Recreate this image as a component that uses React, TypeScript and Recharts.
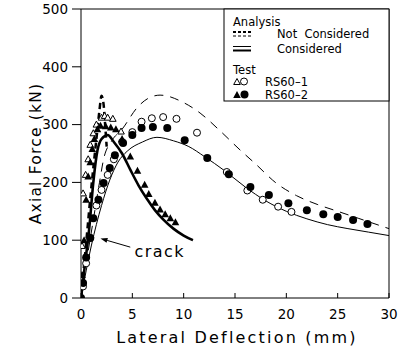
import React from "react"
import {
  ComposedChart,
  Line,
  Scatter,
  XAxis,
  YAxis,
  ReferenceLine,
  ReferenceDot,
} from "recharts"

// analysis curves, [deflection mm, axial force kN]
const notConsideredRS601: [number, number][] = [
  [0, 0], [0.5, 95], [1, 190], [1.5, 275], [1.8, 325], [2, 350],
  [2.2, 335], [2.35, 300], [2.5, 262],
]
const notConsideredRS602: [number, number][] = [
  [0, 0], [0.6, 70], [1.2, 135], [1.8, 200], [2.2, 240], [3, 272], [4, 292],
  [5.5, 330], [6.5, 345], [7.7, 351], [10, 338], [11.6, 320], [13.5, 290],
  [15.5, 256], [17, 232], [19, 199], [21, 177], [23, 162], [25, 150],
  [27, 138], [30, 120],
]
const consideredRS601: [number, number][] = [
  [0, 0], [0.4, 60], [0.8, 120], [1.2, 200], [1.6, 255], [2, 275],
  [2.6, 282], [3.2, 270], [4, 250], [4.8, 222], [5.6, 195], [6.4, 172],
  [7.2, 152], [8, 136], [9, 120], [10, 108], [10.9, 100],
]
const consideredRS602: [number, number][] = [
  [0, 0], [1, 90], [2, 160], [2.8, 204], [3.6, 235], [4.5, 254], [6, 270],
  [7.4, 278], [9, 272], [10.5, 262], [12, 245], [14, 220], [16, 192],
  [18, 168], [20, 150], [22, 137], [24, 127], [26, 120], [28, 114],
  [30, 108],
]

// test points
const openTriangles: [number, number][] = [
  [0.05, 30], [0.1, 90], [0.2, 181], [0.45, 213], [0.7, 240], [0.9, 265],
  [1.2, 285], [1.5, 300], [2.0, 312], [2.3, 315], [2.6, 312], [3.1, 310],
  [3.9, 288],
]
const openCircles: [number, number][] = [
  [0.2, 20], [0.5, 60], [0.9, 104], [1.5, 160], [2, 187], [2.6, 213],
  [3.2, 240], [4, 270], [5, 287], [5.9, 305], [6.9, 311], [8, 313],
  [9.3, 310], [11.3, 286], [14.2, 218], [16.2, 186], [17.7, 170],
  [19.2, 158], [20.5, 149],
]
const filledTriangles: [number, number][] = [
  [0, 0], [0.1, 40], [0.3, 100], [0.5, 170], [0.7, 210], [0.9, 235],
  [1.1, 258], [1.3, 275], [1.6, 292], [1.9, 298], [2.4, 297], [2.9, 295],
  [3.4, 292], [4.0, 275], [4.8, 245], [5.5, 220], [6.2, 196], [6.6, 180],
  [7.2, 165], [7.7, 153], [8.2, 145], [8.7, 138], [9.2, 131],
]
const filledCircles: [number, number][] = [
  [0, 0], [0.2, 26], [0.5, 70], [0.9, 104], [1.2, 138], [1.7, 170],
  [2.2, 199], [2.8, 225], [3.3, 247], [4.1, 268], [5, 282], [5.9, 294],
  [7, 296], [8.4, 294], [10.1, 273], [12.3, 242], [14.4, 214], [16.5, 192],
  [18.3, 178], [20.2, 164], [22, 152], [23.6, 145], [25, 140], [26.5, 135],
  [27.9, 128],
]

const xTicks = [0, 5, 10, 15, 20, 25, 30]
const yTicks = [0, 100, 200, 300, 400, 500]

// crack annotation: arrow from label to the cracking point
const crackArrow: [number, number][] = [[4.8, 88], [1.9, 103]]
const crackLabel: [number, number] = [5.2, 81]

const toPts = (arr: [number, number][]) => arr.map(([x, y]) => ({ x, y }))

const FONT = "'DejaVu Sans', sans-serif"

const OpenTriangle = (p: any) => (
  <polygon
    points={`${p.cx},${p.cy - 3.5} ${p.cx - 3.3},${p.cy + 2.5} ${p.cx + 3.3},${p.cy + 2.5}`}
    fill="#fff"
    stroke="#000"
    strokeWidth={1}
  />
)
const FilledTriangle = (p: any) => (
  <polygon
    points={`${p.cx},${p.cy - 4} ${p.cx - 3.8},${p.cy + 3} ${p.cx + 3.8},${p.cy + 3}`}
    fill="#000"
  />
)
const OpenCircle = (p: any) => (
  <circle cx={p.cx} cy={p.cy} r={3.5} fill="#fff" stroke="#000" strokeWidth={1} />
)
const FilledCircle = (p: any) => <circle cx={p.cx} cy={p.cy} r={4} fill="#000" />

function LegendBox() {
  return (
    <svg
      width={400}
      height={360}
      style={{ position: "absolute", left: 0, top: 0, pointerEvents: "none" }}
    >
      <rect x={224} y={9} width={165} height={92} fill="#fff" stroke="#000" strokeWidth={1} />
      <g fontFamily={FONT} fontSize={11.5} fill="#000">
        <text x={233} y={25.5}>Analysis</text>
        <line x1={233} y1={32} x2={251} y2={32} stroke="#000" strokeWidth={2} strokeDasharray="3 2" />
        <line x1={233} y1={36} x2={251} y2={36} stroke="#000" strokeWidth={1} strokeDasharray="3 2" />
        <text x={277} y={38}>Not&#160;&#160;Considered</text>
        <line x1={233} y1={46.5} x2={251} y2={46.5} stroke="#000" strokeWidth={1} />
        <line x1={233} y1={50.5} x2={251} y2={50.5} stroke="#000" strokeWidth={2} />
        <text x={277} y={53}>Considered</text>
        <text x={233} y={73.5}>Test</text>
        <OpenTriangle cx={237} cy={82} />
        <OpenCircle cx={244} cy={81.5} />
        <text x={265} y={85.5}>RS60–1</text>
        <FilledTriangle cx={237} cy={95} />
        <FilledCircle cx={244.5} cy={94.5} />
        <text x={265} y={98.5}>RS60–2</text>
      </g>
    </svg>
  )
}

const ArrowShape = (p: any) => {
  const { x1, y1, x2, y2 } = p
  const ang = Math.atan2(y2 - y1, x2 - x1)
  const L = 7
  const w = 2.5
  const bx = x2 - L * Math.cos(ang)
  const by = y2 - L * Math.sin(ang)
  const nx = -Math.sin(ang) * w
  const ny = Math.cos(ang) * w
  return (
    <g>
      <line x1={x1} y1={y1} x2={bx} y2={by} stroke="#000" strokeWidth={1} />
      <polygon points={`${x2},${y2} ${bx + nx},${by + ny} ${bx - nx},${by - ny}`} fill="#000" />
    </g>
  )
}

export default function App() {
  return (
    <div style={{ position: "absolute", left: 0, top: 0, width: 400, height: 360, background: "#fff" }}>
      <ComposedChart
        width={400}
        height={360}
        margin={{ top: 9, right: 11, left: 0, bottom: 0 }}
      >
        <XAxis
          type="number"
          dataKey="x"
          domain={[0, 30]}
          ticks={xTicks}
          allowDataOverflow
          stroke="#000"
          tickSize={-5}
          tickMargin={16}
          height={62}
          tick={{ fill: "#000", fontSize: 13.5, fontFamily: FONT }}
          label={{
            content: ({ viewBox }: any) => (
              <text
                x={viewBox.x + viewBox.width / 2 + 2}
                y={viewBox.y + 45}
                textAnchor="middle"
                fontFamily={FONT}
                fontSize={16}
                letterSpacing={2.2}
                fill="#000"
              >
                Lateral Deflection (mm)
              </text>
            ),
          }}
        />
        <YAxis
          type="number"
          dataKey="y"
          domain={[0, 500]}
          ticks={yTicks}
          allowDataOverflow
          width={81}
          stroke="#000"
          tickSize={9}
          tickMargin={4}
          tick={{ fill: "#000", fontSize: 13.5, fontFamily: FONT }}
          label={{
            content: ({ viewBox }: any) => {
              const cx = 36
              const cy = viewBox.y + viewBox.height / 2
              return (
                <text
                  x={cx}
                  y={cy}
                  transform={`rotate(-90 ${cx} ${cy})`}
                  textAnchor="middle"
                  dominantBaseline="central"
                  fontFamily={FONT}
                  fontSize={15.5}
                  letterSpacing={1.2}
                  fill="#000"
                >
                  Axial Force (kN)
                </text>
              )
            },
          }}
        />
        <ReferenceLine y={500} stroke="#000" strokeWidth={1} />
        <ReferenceLine x={30} stroke="#000" strokeWidth={1} />

        <Line data={toPts(notConsideredRS602)} dataKey="y" type="monotone" stroke="#000" strokeWidth={1} strokeDasharray="9 7" dot={false} isAnimationActive={false} />
        <Line data={toPts(consideredRS602)} dataKey="y" type="monotone" stroke="#000" strokeWidth={1} dot={false} isAnimationActive={false} />
        <Line data={toPts(notConsideredRS601)} dataKey="y" type="monotone" stroke="#000" strokeWidth={2.5} strokeDasharray="6 4" dot={false} isAnimationActive={false} />
        <Line data={toPts(consideredRS601)} dataKey="y" type="monotone" stroke="#000" strokeWidth={2.6} dot={false} isAnimationActive={false} />

        <Scatter data={toPts(openTriangles)} dataKey="y" shape={OpenTriangle} isAnimationActive={false} />
        <Scatter data={toPts(openCircles)} dataKey="y" shape={OpenCircle} isAnimationActive={false} />
        <Scatter data={toPts(filledTriangles)} dataKey="y" shape={FilledTriangle} isAnimationActive={false} />
        <Scatter data={toPts(filledCircles)} dataKey="y" shape={FilledCircle} isAnimationActive={false} />

        <ReferenceLine
          segment={[
            { x: crackArrow[0][0], y: crackArrow[0][1] },
            { x: crackArrow[1][0], y: crackArrow[1][1] },
          ]}
          shape={ArrowShape}
        />
        <ReferenceDot
          x={crackLabel[0]}
          y={crackLabel[1]}
          r={0}
          shape={(p: any) => (
            <text
              x={p.cx}
              y={p.cy}
              dominantBaseline="central"
              fontFamily={FONT}
              fontSize={16}
              letterSpacing={1.5}
              fill="#000"
            >
              crack
            </text>
          )}
        />
      </ComposedChart>
      <LegendBox />
    </div>
  )
}
